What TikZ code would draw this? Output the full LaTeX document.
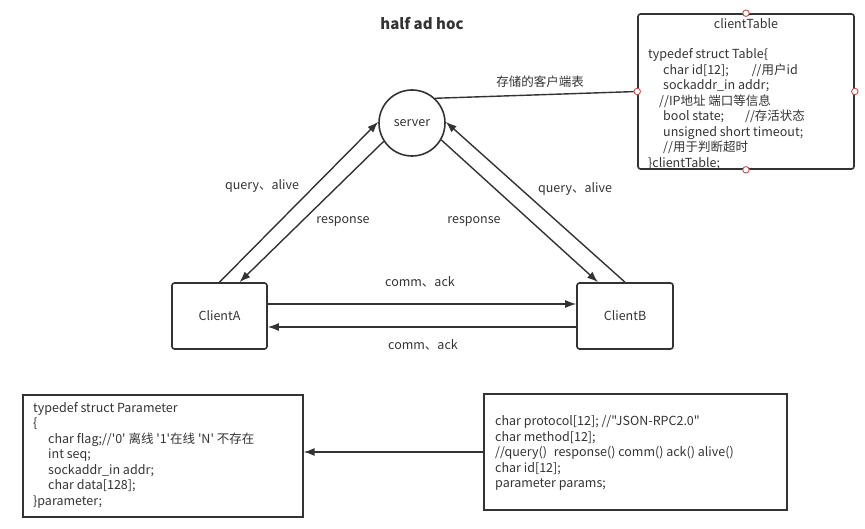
\documentclass[tikz,border=0pt]{standalone}
\usepackage{fontspec}
\setmainfont{Noto Sans CJK SC}[Ligatures=TeXOff]
\usetikzlibrary{arrows.meta,calc}
\definecolor{ink}{HTML}{333333}
\definecolor{pin}{HTML}{C0504D}
\begin{document}
\begin{tikzpicture}[x=1pt,y=-1pt,
  every node/.style={text=ink, font=\fontsize{12.5}{15.5}\selectfont},
  conn/.style={draw=ink, line width=1.4pt},
  arr/.style={conn, -{Latex[length=11pt,width=8pt]}},
  box/.style={draw=ink, line width=1.6pt, rounded corners=2.5pt, inner sep=0pt},
  sqbox/.style={draw=ink, line width=1.3pt, inner sep=0pt},
  pinpt/.style={circle, draw=pin, fill=white, line width=0.9pt, minimum size=6.5pt, inner sep=0pt},
  code/.style={anchor=north west, inner sep=0pt, align=left},
  lbl/.style={inner sep=0pt}
]
\useasboundingbox (0,0) rectangle (865,529);

% title
\node[lbl, font=\fontsize{15}{18}\selectfont\bfseries] (title) at (422,24) {half ad hoc};

% server and clients
\node[circle, draw=ink, line width=1.6pt, minimum size=66pt, inner sep=0pt] (server) at (412,123) {server};
\node[box, minimum width=95pt, minimum height=66pt] (A) at (219.5,316) {ClientA};
\node[box, minimum width=96pt, minimum height=66pt] (B) at (625,316) {ClientB};

% client table
\node[box, minimum width=216pt, minimum height=155pt] (ctable) at (746,91.5) {};
\node[lbl] (cttitle) at (746,24) {clientTable};
\node[code] (ctbody) at (648,48.5) {typedef struct Table\{\\
\hspace*{15pt}char id[12];\hspace*{23pt}//用户id\\
\hspace*{15pt}sockaddr\_in addr;\\
\hspace*{11pt}//IP地址 端口等信息\\
\hspace*{15pt}bool state;\hspace*{21pt}//存活状态\\
\hspace*{15pt}unsigned short timeout;\\
\hspace*{15pt}//用于判断超时\\
\}clientTable;};
\foreach \a in {north,west,east,south}
  \node[pinpt] (pin-\a) at (ctable.\a) {};

% parameter struct
\node[sqbox, minimum width=280pt, minimum height=122pt] (param) at (163,456) {};
\node[code] (pbody) at (33,402) {typedef struct Parameter\\
\{\\
\hspace*{15pt}char flag;//'0' 离线 '1'在线 'N' 不存在\\
\hspace*{15pt}int seq;\\
\hspace*{15pt}sockaddr\_in addr;\\
\hspace*{15pt}char data[128];\\
\}parameter;};

% message struct
\node[sqbox, minimum width=303pt, minimum height=116pt] (msg) at (635.5,452) {};
\node[code] (mbody) at (495,415.5) {char protocol[12]; //"JSON-RPC2.0"\\
char method[12];\\
//query()\hspace*{4pt} response() comm() ack() alive()\\
char id[12];\\
parameter params;};

% connectors
\draw[conn] (server.47) -- (pin-west);
\node[lbl] (storelbl) at (540,82) {存储的客户端表};

\draw[arr] (A.north) -- (server.178);
\draw[arr] (server.213) -- ($(A.north)+(20,0)$);
\draw[arr] (B.north) -- (server.2);
\draw[arr] (server.330) -- ($(B.north)+(-27,0)$);

\draw[arr] ($(A.east)+(0,-12)$) -- ($(B.west)+(0,-12)$);
\draw[arr] ($(B.west)+(0,11)$) -- ($(A.east)+(0,11)$);
\draw[arr] (msg.west) -- (msg.west -| param.east);

% labels
\node[lbl] (qa1) at (262,186) {query、alive};
\node[lbl] (rs1) at (343,221) {response};
\node[lbl] (rs2) at (474,221) {response};
\node[lbl] (qa2) at (575,189) {query、alive};
\node[lbl] (ca1) at (420,282) {comm、ack};
\node[lbl] (ca2) at (423,345) {comm、ack};
\end{tikzpicture}
\end{document}
